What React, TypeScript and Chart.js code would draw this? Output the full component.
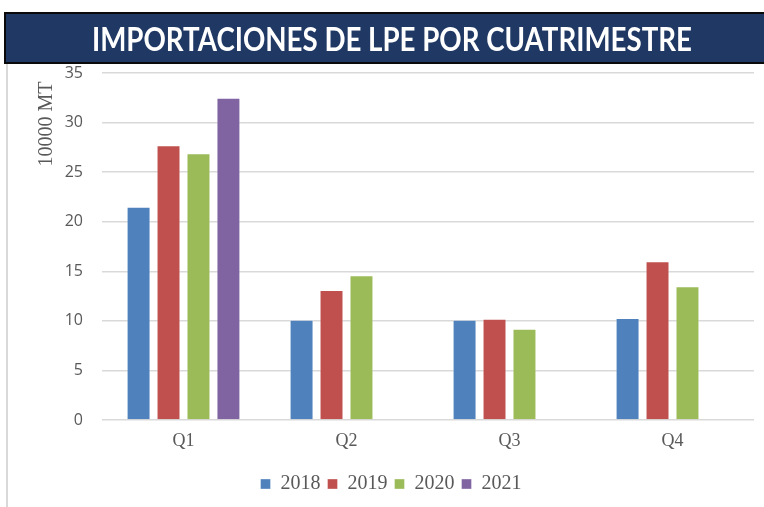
import React, { useEffect, useRef } from "react";
import { Chart, registerables } from "chart.js";

Chart.register(...registerables);

const chartTitle = "IMPORTACIONES DE LPE POR CUATRIMESTRE";
const yAxisTitle = "10000 MT";
const categories = ["Q1", "Q2", "Q3", "Q4"];
const seriesNames = ["2018", "2019", "2020", "2021"];
const values2018 = [21.5, 10.1, 10.1, 10.3];
const values2019 = [27.7, 13.1, 10.2, 16.0];
const values2020 = [26.9, 14.6, 9.2, 13.5];
const values2021 = [32.5, null, null, null];
const seriesColors = ["#4F81BD", "#C0504D", "#9BBB59", "#8064A2"];
const yTicks = [0, 5, 10, 15, 20, 25, 30, 35];

const SERIF = "'Liberation Serif', 'Times New Roman', serif";
const SANS = "'Open Sans', 'Noto Sans', sans-serif";

const decorPlugin = {
  id: "decor",
  afterUpdate(chart: any) {
    const l = chart.legend;
    if (l) {
      l.left += 14;
      l.right += 14;
    }
  },
  beforeDraw(chart: any) {
    const ctx = chart.ctx;
    const w = chart.width;
    const h = chart.height;
    ctx.save();
    ctx.fillStyle = "#ffffff";
    ctx.fillRect(0, 0, w, h);
    // frame left line
    ctx.strokeStyle = "#D9D9D9";
    ctx.lineWidth = 2;
    ctx.beginPath();
    ctx.moveTo(7, 60);
    ctx.lineTo(7, h);
    ctx.stroke();
    // banner
    ctx.fillStyle = "#1F3864";
    ctx.fillRect(5, 13, w + 10, 50);
    ctx.strokeStyle = "#0a0a0a";
    ctx.lineWidth = 2;
    ctx.strokeRect(5, 13, w + 10, 50);
    // title
    ctx.fillStyle = "#ffffff";
    ctx.font = "bold 32px Lato, 'Open Sans', sans-serif";
    ctx.textBaseline = "alphabetic";
    ctx.textAlign = "left";
    const tw = ctx.measureText(chartTitle).width;
    const target = 600;
    const sx = tw > target ? target / tw : 1;
    ctx.translate(392, 0);
    ctx.scale(sx, 1);
    ctx.fillText(chartTitle, -tw / 2, 51);
    ctx.restore();
    // y axis title
    ctx.save();
    ctx.fillStyle = "#595959";
    ctx.font = "20px " + SERIF;
    ctx.textAlign = "center";
    ctx.textBaseline = "middle";
    ctx.translate(47, 124);
    ctx.rotate(-Math.PI / 2);
    ctx.fillText(yAxisTitle, 0, 0);
    ctx.restore();
  },
};

export default function App() {
  const ref = useRef<HTMLCanvasElement | null>(null);
  useEffect(() => {
    document.body.style.margin = "0";
    const canvas = ref.current;
    if (!canvas) return;
    const allValues = [values2018, values2019, values2020, values2021];
    const chart = new Chart(canvas, {
      type: "bar",
      data: {
        labels: categories,
        datasets: seriesNames.map((name, i) => ({
          label: name,
          data: allValues[i] as any,
          backgroundColor: seriesColors[i],
          borderColor: "rgba(255,255,255,0.35)",
          borderWidth: 1,
        })),
      },
      options: {
        animation: false,
        responsive: false,
        maintainAspectRatio: false,
        layout: { padding: { left: 0, right: 10, top: 73, bottom: 3 } },
        datasets: { bar: { categoryPercentage: 0.735, barPercentage: 0.8 } } as any,
        plugins: {
          title: { display: false },
          tooltip: { enabled: false },
          legend: {
            position: "bottom",
            labels: {
              font: { family: SERIF, size: 20 },
              color: "#595959",
              boxWidth: 10,
              boxHeight: 10,
              padding: 7,
            },
          },
        },
        scales: {
          x: {
            grid: { display: false, drawTicks: false },
            border: { display: false },
            ticks: { font: { family: SERIF, size: 18 }, color: "#595959", padding: 10 },
            afterFit: (s: any) => {
              s.height = 47;
            },
          },
          y: {
            min: 0,
            max: 35,
            afterBuildTicks: (s: any) => {
              s.ticks = yTicks.map((v) => ({ value: v }));
            },
            grid: { color: "#D9D9D9", lineWidth: 1.5, drawTicks: false },
            border: { display: false },
            ticks: { font: { family: SANS, size: 16 }, color: "#595959", padding: 19 },
            afterFit: (s: any) => {
              s.width = 102;
            },
          },
        },
      },
      plugins: [decorPlugin],
    });
    return () => chart.destroy();
  }, []);
  return <canvas ref={ref} width={764} height={507} style={{ display: "block", width: 764, height: 507 }} />;
}
